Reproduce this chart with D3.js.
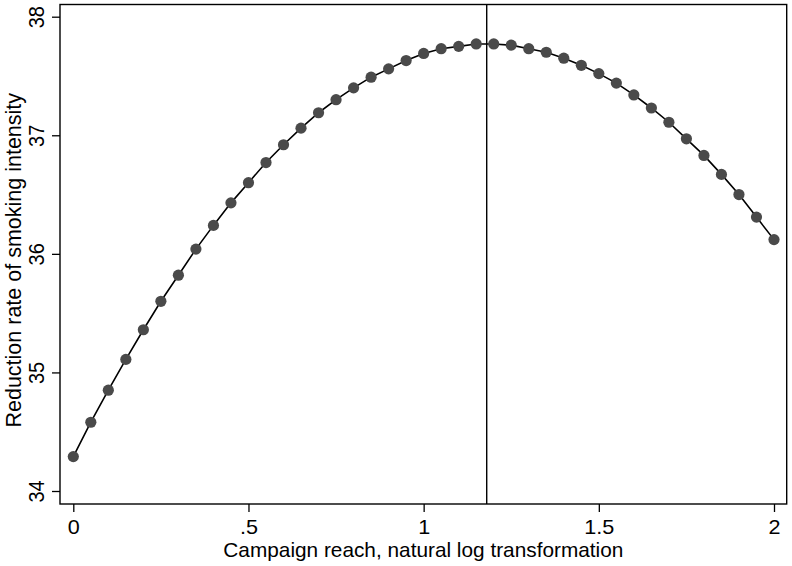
<!DOCTYPE html>
<html>
<head>
<meta charset="utf-8">
<script src="https://cdn.jsdelivr.net/npm/d3@7"></script>
<style>
  html, body { margin: 0; padding: 0; background: #fff; }
  svg { display: block; font-family: "Liberation Sans", Arial, Helvetica, sans-serif; }
</style>
</head>
<body>
<svg id="chart" width="792" height="566"></svg>
<script>
// Campaign reach (ln) vs predicted reduction rate

const reach = [0, 0.05, 0.1, 0.15, 0.2, 0.25, 0.3, 0.35, 0.4, 0.45,
  0.5, 0.55, 0.6, 0.65, 0.7, 0.75, 0.8, 0.85, 0.9, 0.95,
  1, 1.05, 1.1, 1.15, 1.2, 1.25, 1.3, 1.35, 1.4, 1.45,
  1.5, 1.55, 1.6, 1.65, 1.7, 1.75, 1.8, 1.85, 1.9, 1.95, 2];

const reduction = [34.29, 34.58, 34.85, 35.11, 35.36, 35.60, 35.82, 36.04, 36.24, 36.43,
  36.60, 36.77, 36.92, 37.06, 37.19, 37.30, 37.40, 37.49, 37.56, 37.63,
  37.69, 37.73, 37.75, 37.77, 37.77, 37.76, 37.73, 37.70, 37.65, 37.59,
  37.52, 37.44, 37.34, 37.23, 37.11, 36.97, 36.83, 36.67, 36.50, 36.31, 36.12];

const peakReach = 1.18;

const xTicks = [0, 0.5, 1, 1.5, 2];
const xTickLabels = ['0', '.5', '1', '1.5', '2'];
const yTicks = [34, 35, 36, 37, 38];
const yTickLabels = ['34', '35', '36', '37', '38'];

const xTitle = 'Campaign reach, natural log transformation';
const yTitle = 'Reduction rate of smoking intensity';

const svg = d3.select('#chart');

// plot region (frame)
const frame = { left: 60, top: 4.5, right: 786.7, bottom: 504 };

const x = d3.scaleLinear().domain([0, 2]).range([73.3, 774]);
const y = d3.scaleLinear().domain([34, 38]).range([491, 16.7]);

const points = reach.map((r, i) => ({ x: r, y: reduction[i] }));

// vertical reference line at the turning point
svg.append('line')
  .attr('x1', x(peakReach)).attr('x2', x(peakReach))
  .attr('y1', frame.top).attr('y2', frame.bottom)
  .attr('stroke', '#000')
  .attr('stroke-width', 1.4);

// connecting line
const line = d3.line()
  .x(d => x(d.x))
  .y(d => y(d.y));

svg.append('path')
  .datum(points)
  .attr('d', line)
  .attr('fill', 'none')
  .attr('stroke', '#000')
  .attr('stroke-width', 1.6);

// markers
svg.append('g')
  .selectAll('circle')
  .data(points)
  .enter()
  .append('circle')
  .attr('cx', d => x(d.x))
  .attr('cy', d => y(d.y))
  .attr('r', 5.6)
  .attr('fill', '#4a4a4a');

// frame
svg.append('rect')
  .attr('x', frame.left)
  .attr('y', frame.top)
  .attr('width', frame.right - frame.left)
  .attr('height', frame.bottom - frame.top)
  .attr('fill', 'none')
  .attr('stroke', '#000')
  .attr('stroke-width', 1.4);

// x axis
const xAxis = d3.axisBottom(x)
  .tickValues(xTicks)
  .tickSize(8)
  .tickFormat((d, i) => xTickLabels[i]);

const gx = svg.append('g')
  .attr('transform', `translate(0,${frame.bottom})`)
  .call(xAxis);
gx.select('.domain').remove();
gx.selectAll('.tick line').attr('stroke', '#000').attr('stroke-width', 1.3);
gx.selectAll('.tick text')
  .attr('y', 0)
  .attr('dy', 0)
  .attr('transform', 'translate(0,30) scale(1.08,1)')
  .attr('fill', '#000')
  .style('font-size', '20px');

// y axis
const yAxis = d3.axisLeft(y)
  .tickValues(yTicks)
  .tickSize(8)
  .tickFormat((d, i) => yTickLabels[i]);

const gy = svg.append('g')
  .attr('transform', `translate(${frame.left},0)`)
  .call(yAxis);
gy.select('.domain').remove();
gy.selectAll('.tick line').attr('stroke', '#000').attr('stroke-width', 1.3);
gy.selectAll('.tick text')
  .attr('x', 0)
  .attr('dy', 0)
  .attr('text-anchor', 'middle')
  .attr('transform', 'translate(-16,0) scale(1.08,1) rotate(-90)')
  .attr('fill', '#000')
  .style('font-size', '20px');

// axis titles
svg.append('text')
  .attr('x', (frame.left + frame.right) / 2)
  .attr('y', 557)
  .attr('text-anchor', 'middle')
  .style('font-size', '20.8px')
  .text(xTitle);

svg.append('text')
  .attr('transform', `translate(21,${(frame.top + frame.bottom) / 2 + 6}) rotate(-90)`)
  .attr('text-anchor', 'middle')
  .style('font-size', '21.5px')
  .text(yTitle);
</script>
</body>
</html>
